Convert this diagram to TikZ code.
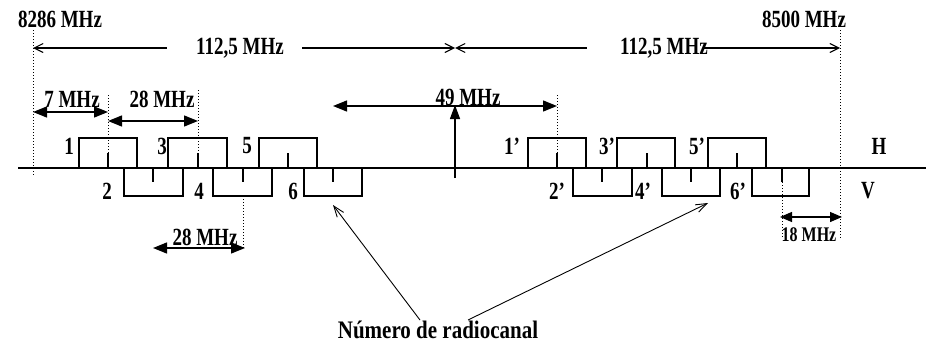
\documentclass[tikz,border=0pt]{standalone}
\usepackage{fontspec}
\setmainfont{Liberation Serif}
\usetikzlibrary{arrows.meta}
\newcommand{\tallbox}[1]{\scalebox{1}[1.3]{#1}}
\begin{document}
\begin{tikzpicture}[x=1pt,y=-1pt,
 lbl/.style={font=\fontsize{19}{19}\selectfont\bfseries, inner sep=0pt},
 small/.style={font=\fontsize{16}{16}\selectfont\bfseries, inner sep=0pt},
 biglbl/.style={font=\fontsize{21}{21}\selectfont\bfseries, inner sep=0pt},
 dots/.style={line width=1pt, dash pattern=on 1pt off 2pt},
 chan/.style={line width=1.2pt},
 fillarrow/.style={line width=1.3pt, {Triangle[length=14pt,width=11pt]}-{Triangle[length=14pt,width=11pt]}},
 openhead/.style={line width=1.1pt},
 pointer/.style={line width=0.9pt, -{Straight Barb[length=11pt,width=8pt]}}]
\useasboundingbox (0,0) rectangle (926,343);
% axis
\coordinate (axL) at (18,168);
\coordinate (axR) at (926,168);
\draw[chan] (axL) -- (axR);
% band edge dotted lines
\coordinate (d1a) at (33,30);  \coordinate (d1b) at (33,176);
\coordinate (d2a) at (840,30); \coordinate (d2b) at (840,238);
\draw[dots] (d1a) -- (d1b);
\draw[dots] (d2a) -- (d2b);
\node[lbl] (f1) at (60,19) {\tallbox{8286 MHz}};
\node[lbl] (f2) at (804,19) {\tallbox{8500 MHz}};
% 112,5 MHz arrows
\coordinate (m) at (455,48);
\node[lbl] (h1) at (240,48) {\tallbox{112,5 MHz}};
\node[lbl] (h2) at (664,48) {\tallbox{112,5 MHz}};
\coordinate (l1) at (33,48); \coordinate (l1e) at (167,48); \coordinate (l2s) at (302,48);
\coordinate (r1e) at (587,48); \coordinate (r2s) at (703,48); \coordinate (r2) at (840,48);
\draw[openhead, {Straight Barb[length=9pt,width=9pt]}-] (l1) -- (l1e);
\draw[openhead, -{Straight Barb[length=9pt,width=9pt]}] (l2s) -- (m);
\draw[openhead, {Straight Barb[length=9pt,width=9pt]}-] (m) -- (r1e);
\draw[openhead, -{Straight Barb[length=9pt,width=9pt]}] (r2s) -- (r2);
% top (H) channels
\foreach \l/\r/\t in {79/137/108, 168/227/198, 259/317/288, 528/586/557, 617/675/647, 708/766/737}{
  \draw[chan] (\l,168) -- (\l,138) -- (\r,138) -- (\r,168);
  \draw[chan] (\t,168) -- (\t,153);
}
% bottom (V) channels
\foreach \l/\r/\t in {124/183/153, 213/272/243, 304/362/333, 573/632/602, 662/720/691, 752/809/782}{
  \draw[chan] (\l,168) -- (\l,196) -- (\r,196) -- (\r,168);
  \draw[chan] (\t,168) -- (\t,182);
}
% channel labels
\node[lbl] (n1) at (69,146) {\tallbox{1}};
\node[lbl] (n3) at (162,146) {\tallbox{3}};
\node[lbl] (n5) at (247,146) {\tallbox{5}};
\node[lbl] (n2) at (107,191) {\tallbox{2}};
\node[lbl] (n4) at (199,191) {\tallbox{4}};
\node[lbl] (n6) at (293,191) {\tallbox{6}};
\node[lbl] (p1) at (512,146) {\tallbox{1’}};
\node[lbl] (p3) at (607,146) {\tallbox{3’}};
\node[lbl] (p5) at (697,146) {\tallbox{5’}};
\node[lbl] (p2) at (557,191) {\tallbox{2’}};
\node[lbl] (p4) at (643,191) {\tallbox{4’}};
\node[lbl] (p6) at (738,191) {\tallbox{6’}};
\node[lbl] (H) at (879,146) {\tallbox{H}};
\node[lbl] (V) at (868,191) {\tallbox{V}};
% 7 MHz
\coordinate (s7a) at (33,112); \coordinate (s7b) at (108,112);
\draw[fillarrow] (s7a) -- (s7b);
\node[lbl] (t7) at (72,99) {\tallbox{7 MHz}};
\coordinate (dA) at (108,95); \coordinate (dAb) at (108,153);
\draw[dots] (dA) -- (dAb);
% 28 MHz upper
\coordinate (s28a) at (108,121); \coordinate (s28b) at (198,121);
\draw[fillarrow] (s28a) -- (s28b);
\node[lbl] (t28) at (162,99) {\tallbox{28 MHz}};
\coordinate (dB) at (198,90); \coordinate (dBb) at (198,153);
\draw[dots] (dB) -- (dBb);
% 28 MHz lower
\coordinate (dC) at (243,196); \coordinate (dCb) at (243,249);
\draw[dots] (dC) -- (dCb);
\coordinate (s28c) at (153,248); \coordinate (s28d) at (245,248);
\draw[fillarrow] (s28c) -- (s28d);
\node[lbl] (t28b) at (205,237) {\tallbox{28 MHz}};
% centre and 49 MHz
\coordinate (c0) at (455,178); \coordinate (c1) at (455,105);
\draw[line width=1.3pt, -{Triangle[length=14pt,width=10pt]}] (c0) -- (c1);
\coordinate (s49a) at (333,106); \coordinate (s49b) at (557,106);
\draw[fillarrow] (s49a) -- (s49b);
\node[lbl] (t49) at (468,97) {\tallbox{49 MHz}};
\coordinate (dD) at (557,95); \coordinate (dDb) at (557,153);
\draw[dots] (dD) -- (dDb);
% 18 MHz
\coordinate (dE) at (782,182); \coordinate (dEb) at (782,238);
\draw[dots] (dE) -- (dEb);
\coordinate (s18a) at (780,217); \coordinate (s18b) at (842,217);
\draw[line width=1.3pt, {Triangle[length=12pt,width=10pt]}-{Triangle[length=12pt,width=10pt]}] (s18a) -- (s18b);
\node[small] (t18) at (809,235) {\tallbox{18 MHz}};
% pointer label
\node[biglbl] (num) at (438,330) {\scalebox{1}[1.2]{Número de radiocanal}};
\coordinate (q1) at (420,320); \coordinate (q1t) at (333,205);
\coordinate (q2) at (468,320); \coordinate (q2t) at (708,203);
\draw[pointer] (q1) -- (q1t);
\draw[pointer] (q2) -- (q2t);
\end{tikzpicture}
\end{document}
